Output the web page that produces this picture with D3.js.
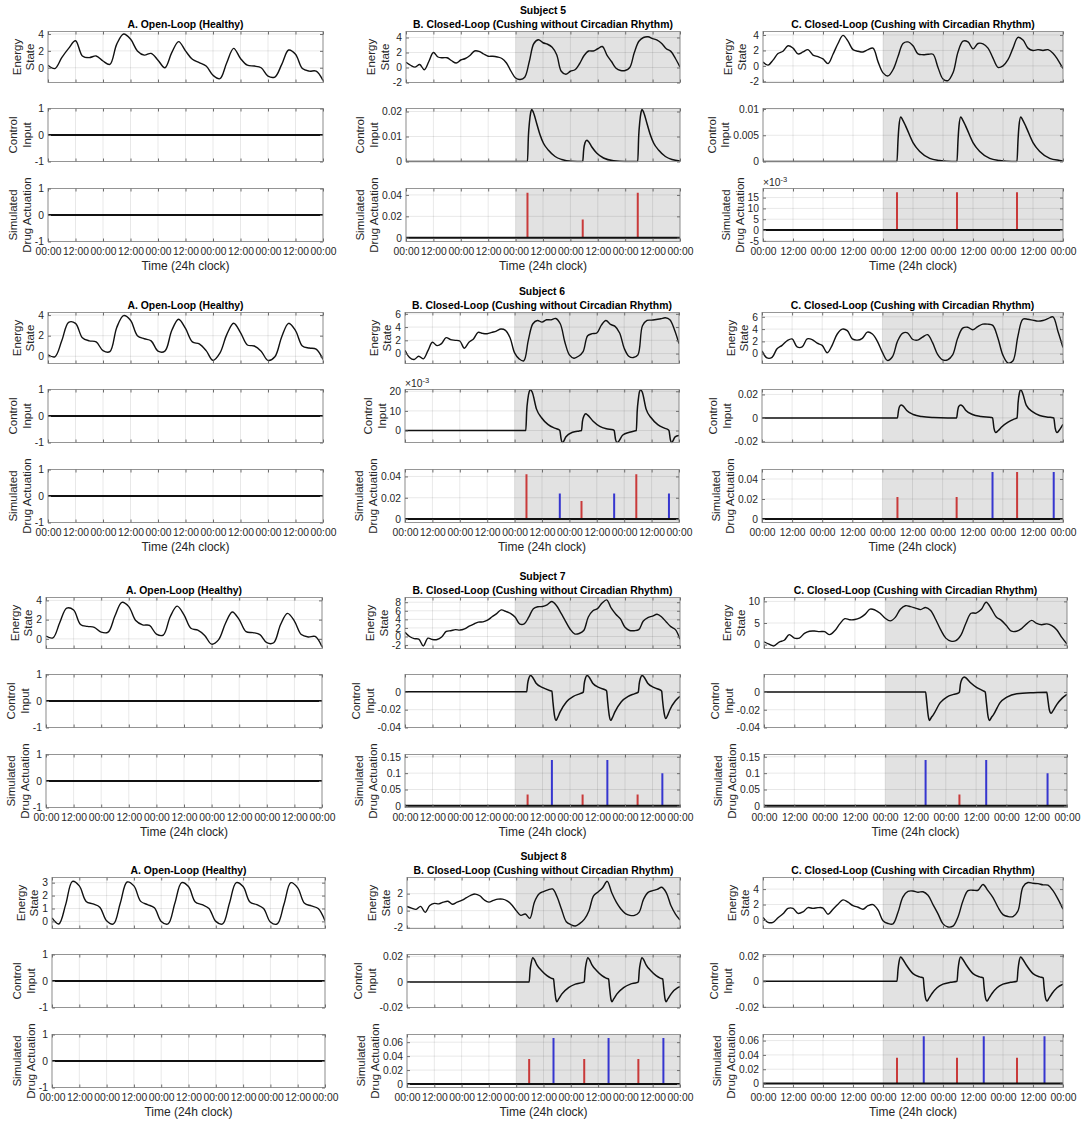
<!DOCTYPE html>
<html>
<head>
<meta charset="utf-8">
<script src="https://cdn.jsdelivr.net/npm/d3@7"></script>
<style>
  body { margin: 0; background: #fff; }
  svg { display: block; }
</style>
</head>
<body>
<svg id="fig" width="1084" height="1121"></svg>
<script>
// ---------- labels ----------
const subjectNames = ["Subject 5", "Subject 6", "Subject 7", "Subject 8"];
const columnTitles = [
  "A. Open-Loop (Healthy)",
  "B. Closed-Loop (Cushing without Circadian Rhythm)",
  "C. Closed-Loop (Cushing with Circadian Rhythm)"
];
const rowLabels = [["Energy", "State"], ["Control", "Input"], ["Simulated", "Drug Actuation"]];
const timeTickHours = [0, 12, 24, 36, 48, 60, 72, 84, 96, 108, 120];
const timeTickLabels = ["00:00", "12:00", "00:00", "12:00", "00:00", "12:00", "00:00", "12:00", "00:00", "12:00", "00:00"];
const treatmentStart = 48; // closed-loop period (shaded) starts here, hours

// ---------- energy state (evenly spaced over 0..120 h) ----------
const energyS5A = [0.3,-0.1,1.2,2.3,3.2,1.4,1.2,1.4,0.8,0.4,2.8,4.0,3.4,2.0,1.5,1.7,0.9,0.0,1.8,3.1,2.0,1.0,0.6,0.2,-0.9,-1.3,0.6,2.3,1.1,0.3,0.2,0.0,-1.0,-1.1,0.4,2.1,1.6,-0.1,-0.4,-0.4,-1.5];
const energyS6A = [0.15,-0.05,1.5,3.3,3.2,1.8,1.5,1.4,0.55,0.45,2.8,3.95,3.5,2.0,1.7,1.5,0.5,0.5,2.5,3.6,2.7,1.4,1.2,0.55,-0.4,0.3,2.1,3.2,2.3,1.1,1.0,0.5,-0.4,-0.05,1.9,3.2,2.5,1.0,0.8,0.7,-0.3];
const energyS7A = [0.3,0.1,1.7,3.2,3.0,1.5,1.3,1.2,0.7,0.7,2.4,3.8,3.35,1.9,1.45,1.4,0.5,0.4,2.3,3.4,2.5,1.1,0.9,0.35,-0.55,-0.1,1.6,2.8,2.0,0.75,0.65,0.45,-0.4,-0.4,1.5,2.65,1.85,0.45,0.2,0.25,-0.8];
const energyS8A = [0.27,-0.2,1.3,3.1,2.75,1.55,1.35,1.1,0.05,-0.2,1.4,3.05,2.75,1.55,1.3,1.05,0.0,-0.2,1.4,3.0,2.7,1.5,1.3,1.0,0.0,-0.2,1.4,3.0,2.7,1.5,1.3,1.0,-0.05,-0.2,1.35,3.0,2.6,1.4,1.2,1.0,0.05];

const energyS5B = [0.7,0.3,0.05,0.4,-0.3,0.8,2.0,1.4,1.3,1.3,0.9,0.6,1.0,1.2,1.6,2.2,2.15,1.8,1.5,1.5,1.4,1.2,0.6,-0.5,-1.4,-1.6,-1.3,0.8,3.2,3.7,3.3,3.1,2.7,1.7,-0.5,-0.9,-0.5,-0.3,0.5,1.6,2.2,2.2,2.5,2.8,1.65,0.8,-0.1,-0.4,-0.4,0.0,2.0,3.5,4.0,4.1,3.85,3.65,3.2,2.5,2.15,1.2,0.05];
const energyS5C = [0.5,0.1,0.75,1.6,1.9,2.6,2.3,1.55,1.8,2.1,1.4,1.2,0.9,0.3,1.5,2.9,3.95,3.2,2.1,1.9,1.8,2.1,2.3,0.55,-0.9,-1.3,-0.5,1.2,2.9,3.1,2.6,1.55,1.45,1.5,1.5,-0.2,-1.7,-1.9,-0.9,1.8,3.2,3.1,2.2,2.9,2.85,2.3,1.0,-0.2,0.0,0.8,2.3,3.7,3.35,2.3,2.0,2.1,2.0,2.1,1.65,0.75,-0.35];
const energyS6B = [0.5,-0.6,-0.9,-0.4,-0.8,0.4,1.7,1.2,1.5,2.4,2.1,2.0,1.9,0.8,1.7,2.2,3.2,3.05,3.0,3.2,3.4,3.7,3.5,2.4,0.1,-0.8,-1.1,2.0,4.5,5.0,4.75,5.1,5.1,5.3,4.5,1.75,-0.2,-0.7,-0.4,0.3,2.7,3.0,3.1,4.3,5.0,4.4,4.1,3.1,0.8,-0.4,-0.6,-0.2,4.2,5.0,5.05,5.15,5.25,5.4,5.1,3.6,1.5];
const energyS6C = [0.45,-0.7,-0.6,0.8,1.35,2.1,2.4,1.1,1.1,2.4,2.3,1.7,1.35,0.15,1.4,3.2,4.0,3.75,2.4,2.2,2.5,3.5,3.2,2.0,0.2,-1.1,-0.5,2.0,3.3,3.4,2.35,2.2,2.7,3.1,1.8,-0.1,-1.0,-1.0,-0.2,2.5,4.15,4.3,3.9,4.4,4.8,4.8,4.6,2.6,-0.2,-1.5,-1.2,2.8,5.6,5.6,5.45,5.3,5.4,5.7,6.0,3.6,1.0];
const energyS7B = [1.0,0.0,-0.5,-0.6,-2.2,-0.4,-0.7,-0.7,-0.1,1.2,1.35,1.6,1.5,1.8,2.4,2.9,3.35,3.4,3.8,4.6,5.35,6.2,5.85,5.4,4.55,2.95,2.95,4.5,6.5,6.95,7.0,7.4,8.15,7.3,5.5,3.6,1.75,0.6,0.7,1.4,4.55,6.0,6.5,7.8,8.55,6.6,5.2,4.1,2.15,1.4,1.35,1.6,3.6,4.4,4.75,5.2,4.55,3.4,2.3,1.6,-0.65];
const energyS7C = [0.65,0.1,-0.3,0.6,1.0,2.3,1.5,1.5,2.6,3.1,3.15,3.0,3.0,2.3,3.2,4.8,6.0,5.75,5.8,6.2,7.0,8.2,8.0,7.25,6.1,5.5,6.3,8.2,9.0,8.8,8.45,8.1,8.6,7.9,5.8,3.4,1.5,0.8,0.9,2.2,5.0,7.25,7.3,8.1,9.8,8.3,6.4,5.6,4.4,3.1,3.1,3.7,4.8,5.6,4.9,4.6,4.8,4.4,3.4,1.6,0.15];
const energyS8B = [0.5,0.3,0.15,0.5,-0.2,0.6,0.85,0.8,1.0,1.1,0.75,1.0,1.2,1.5,1.8,1.95,1.75,1.25,1.0,1.2,1.35,1.35,1.15,0.7,0.0,-0.55,-0.4,-0.9,1.0,1.95,2.25,2.45,2.55,1.6,0.1,-1.3,-1.65,-1.8,-1.5,-1.0,0.0,1.75,2.2,2.7,3.45,2.1,1.0,0.2,-0.35,-0.55,-0.55,-0.2,1.35,2.15,2.35,2.5,2.75,2.1,0.6,-0.4,-1.1];
const energyS8C = [0.35,-0.3,-0.3,0.3,0.8,1.5,1.5,0.85,1.05,1.6,1.5,1.6,1.55,0.75,1.4,2.05,2.6,2.3,1.85,1.65,1.4,1.85,2.0,1.3,-0.1,-0.45,-0.5,1.0,3.0,3.7,3.75,3.6,3.65,3.2,2.0,0.8,-0.5,-0.9,-0.8,0.4,2.5,3.8,3.85,3.85,4.6,3.8,2.9,1.65,0.7,0.45,0.45,1.2,4.3,4.85,4.75,4.7,4.55,4.5,3.8,2.7,1.4];

// ---------- control input, [hour, value] ----------
const controlOpen = [[0, 0], [120, 0]];
const controlS5B = [[0,0],[53.2,0],[53.6,0.010],[54.1,0.016],[54.6,0.0195],[55.1,0.0208],[55.8,0.0196],[57.3,0.0150],[58.7,0.0107],[60.2,0.0073],[62.4,0.0045],[65.3,0.0020],[68.2,0.0008],[72.6,0.0001],[77.4,0],[77.8,0.0045],[78.4,0.0075],[79.2,0.0085],[79.9,0.0080],[81.4,0.0058],[83.6,0.0033],[86.5,0.0014],[90.9,0.0003],[96,0],[101.5,0],[101.9,0.010],[102.4,0.016],[102.9,0.0195],[103.4,0.0208],[104.1,0.0196],[105.6,0.0150],[107,0.0107],[108.5,0.0073],[110.7,0.0045],[113.6,0.0020],[116.5,0.0008],[120,0.0002]];
const controlS5C = [[0,0],[53.6,0],[54.0,0.0040],[54.4,0.0068],[55.1,0.0085],[55.8,0.0080],[57.3,0.0065],[60.0,0.0036],[62.7,0.0019],[66.7,0.0006],[70.6,0.0002],[75.6,0],[77.6,0],[78.0,0.0040],[78.4,0.0068],[79.1,0.0085],[79.8,0.0080],[81.3,0.0065],[84.0,0.0036],[86.7,0.0019],[90.7,0.0006],[94.6,0.0002],[99.6,0],[101.6,0],[102.0,0.0040],[102.4,0.0068],[103.1,0.0085],[103.8,0.0080],[105.3,0.0065],[108.0,0.0036],[110.7,0.0019],[114.7,0.0006],[118.6,0.0002],[120,0.0001]];
const controlS6B = [[0,0],[52.9,0],[53.3,0.010],[53.8,0.016],[54.4,0.0198],[55.0,0.0208],[55.7,0.0196],[57.6,0.0109],[59.8,0.0065],[62.7,0.0030],[65.6,0.0012],[67.5,0.0004],[67.8,0],[68.4,-0.0045],[69.0,-0.0061],[70.5,-0.0032],[73.4,-0.0009],[76.3,-0.0002],[77.3,0],[77.7,0.0045],[78.4,0.0075],[79.2,0.0085],[79.9,0.0080],[82.4,0.0047],[85.3,0.0021],[88.2,0.0009],[91.1,0.0004],[91.6,0],[92.2,-0.0045],[92.9,-0.0061],[95.4,-0.0023],[98.3,-0.0009],[100.5,-0.0002],[101.3,0],[101.7,0.010],[102.2,0.016],[102.7,0.0198],[103.2,0.0208],[103.9,0.0196],[105.6,0.0109],[107.8,0.0065],[110.7,0.0030],[113.6,0.0012],[115.3,0.0004],[115.6,0],[116.2,-0.0045],[116.8,-0.0061],[118.3,-0.0032],[120,-0.0025]];
const controlS6C = [[0,0],[54.0,0],[54.4,0.006],[54.8,0.0095],[55.5,0.011],[56.2,0.0103],[57.7,0.0063],[60.3,0.0029],[63.7,0.0011],[68.3,0.0003],[74,0],[77.6,0],[78.0,0.006],[78.4,0.0095],[79.2,0.011],[79.9,0.0103],[81.3,0.0063],[83.9,0.0029],[87.3,0.0011],[91.5,0.0003],[91.9,0],[92.5,-0.009],[93.2,-0.0125],[94.1,-0.011],[95.4,-0.008],[98.1,-0.0037],[100.7,-0.0009],[101.7,0],[102.1,0.013],[102.6,0.021],[103.2,0.024],[103.9,0.021],[105.4,0.0106],[108.1,0.0049],[110.7,0.0020],[114.0,0.0006],[116.0,0.0002],[116.3,0],[116.9,-0.009],[117.6,-0.0125],[118.5,-0.0105],[120,-0.0055]];
const controlS7B = [[0,0],[53.1,0],[53.5,0.009],[54.0,0.015],[54.8,0.0183],[55.5,0.0170],[57.2,0.0097],[60.1,0.0047],[63.1,0.0016],[64.1,0.0008],[64.5,-0.010],[65.2,-0.026],[65.9,-0.032],[66.6,-0.029],[67.7,-0.0225],[70.5,-0.011],[73.5,-0.005],[76.4,-0.002],[77.8,-0.0003],[78.2,0.009],[78.7,0.015],[79.5,0.0183],[80.2,0.0170],[81.9,0.0097],[84.8,0.0047],[87.8,0.0016],[88.0,0.0008],[88.4,-0.010],[89.1,-0.026],[89.8,-0.032],[90.5,-0.029],[91.6,-0.0225],[94.4,-0.011],[97.4,-0.005],[100.3,-0.002],[101.8,-0.0003],[102.2,0.009],[102.7,0.015],[103.5,0.0183],[104.2,0.0170],[105.9,0.0097],[108.8,0.0047],[111.7,0.0016],[112.0,0.0008],[112.4,-0.010],[113.1,-0.024],[113.8,-0.030],[114.5,-0.027],[115.6,-0.020],[118,-0.010],[120,-0.005]];
const controlS7C = [[0,0],[64.0,0],[64.4,-0.010],[65.0,-0.026],[65.5,-0.032],[66.2,-0.029],[67.1,-0.0255],[69.8,-0.012],[72.4,-0.0057],[75.1,-0.0027],[77.1,-0.001],[77.4,0],[77.8,0.009],[78.4,0.0145],[79.3,0.017],[80.0,0.0158],[81.7,0.0107],[84.3,0.005],[87.0,0.0011],[87.6,0],[88.1,-0.012],[88.7,-0.027],[89.3,-0.032],[90.0,-0.029],[90.9,-0.0255],[93.5,-0.012],[96.2,-0.0057],[100.1,-0.0019],[106.7,-0.0008],[112.0,-0.0004],[112.4,-0.008],[113.0,-0.020],[113.7,-0.024],[114.5,-0.021],[116.0,-0.014],[118.0,-0.0072],[120,-0.0027]];
const controlS8B = [[0,0],[53.7,0],[54.1,0.009],[54.6,0.015],[55.3,0.019],[56.0,0.0175],[57.1,0.0134],[59.3,0.0086],[61.5,0.0049],[63.3,0.003],[64.4,0.0024],[64.8,-0.004],[65.4,-0.013],[65.9,-0.0155],[66.6,-0.0135],[68.1,-0.0093],[71.0,-0.0045],[74.0,-0.0017],[77.0,-0.0005],[77.9,0],[78.3,0.009],[78.8,0.015],[79.5,0.019],[80.2,0.0175],[81.3,0.0134],[83.5,0.0086],[85.7,0.0049],[87.5,0.003],[88.6,0.0024],[89.0,-0.004],[89.6,-0.013],[90.1,-0.0155],[90.8,-0.0135],[92.3,-0.0093],[95.2,-0.0045],[98.2,-0.0017],[101.0,-0.0005],[101.7,0],[102.1,0.009],[102.6,0.015],[103.3,0.019],[104.0,0.0175],[105.1,0.0134],[107.3,0.0086],[109.5,0.0049],[111.3,0.003],[112.4,0.0024],[112.8,-0.004],[113.4,-0.013],[113.9,-0.0155],[114.6,-0.0135],[116.1,-0.0093],[119.0,-0.0045],[120,-0.0037]];
const controlS8C = [[0,0],[53.6,0],[54.0,0.009],[54.4,0.015],[55.1,0.019],[55.8,0.0175],[57.3,0.0128],[60.0,0.006],[62.7,0.0035],[64.1,0.0027],[64.4,-0.004],[65.0,-0.013],[65.6,-0.0155],[66.3,-0.0135],[67.6,-0.0095],[69.6,-0.005],[72.0,-0.0022],[75.0,-0.0008],[77.6,0],[78.0,0.009],[78.4,0.015],[79.1,0.019],[79.8,0.0175],[81.3,0.0128],[84.0,0.006],[86.7,0.0035],[88.1,0.0027],[88.4,-0.004],[89.0,-0.013],[89.6,-0.0155],[90.3,-0.0135],[91.6,-0.0095],[93.6,-0.005],[96.0,-0.0022],[99.0,-0.0008],[101.6,0],[102.0,0.009],[102.4,0.015],[103.1,0.019],[103.8,0.0175],[105.3,0.0128],[108.0,0.006],[110.7,0.0035],[112.1,0.0027],[112.4,-0.004],[113.0,-0.013],[113.6,-0.0155],[114.3,-0.0135],[115.6,-0.0095],[117.6,-0.005],[120,-0.0022]];

// ---------- drug actuation stems, [hour, dose, drug] ----------
const drugOpen = [];
const drugS5B = [[53.2,0.042,"r"],[77.4,0.017,"r"],[101.5,0.042,"r"]];
const drugS5C = [[53.6,0.0175,"r"],[77.6,0.0175,"r"],[101.6,0.0175,"r"]];
const drugS6B = [[53.2,0.042,"r"],[67.8,0.024,"b"],[77.3,0.017,"r"],[91.6,0.024,"b"],[101.3,0.042,"r"],[115.6,0.024,"b"]];
const drugS6C = [[54.0,0.022,"r"],[77.6,0.022,"r"],[91.9,0.047,"b"],[101.7,0.047,"r"],[116.3,0.047,"b"]];
const drugS7B = [[53.5,0.035,"r"],[64.1,0.14,"b"],[77.5,0.035,"r"],[88.3,0.14,"b"],[101.5,0.035,"r"],[112.3,0.1,"b"]];
const drugS7C = [[64.0,0.14,"b"],[77.4,0.035,"r"],[88.0,0.14,"b"],[112.3,0.1,"b"]];
const drugS8B = [[53.7,0.036,"r"],[64.4,0.066,"b"],[77.9,0.036,"r"],[88.6,0.066,"b"],[101.7,0.036,"r"],[112.7,0.066,"b"]];
const drugS8C = [[53.6,0.036,"r"],[64.3,0.066,"b"],[77.6,0.036,"r"],[88.3,0.066,"b"],[101.6,0.036,"r"],[112.6,0.066,"b"]];

// ---------- y limits / ticks, order: S5 A,B,C, S6 A,B,C, ... ----------
const energyYLim = [[-1.75,4.3],[-2,4.8],[-2.15,4.45],[-0.7,4.25],[-1.5,6.2],[-1.6,6.7],[-1.0,4.3],[-2.8,9.1],[-0.9,10.9],[-0.55,3.4],[-2.1,3.9],[-1.1,5.5]];
const energyTicks = [[0,2,4],[-2,0,2,4],[-2,0,2,4],[0,2,4],[0,2,4,6],[0,2,4,6],[0,2,4],[-2,0,2,4,6,8],[0,5,10],[0,1,2,3],[-2,0,2],[0,2,4]];
const controlYLim = [[-1,1],[0,0.0212],[0,0.0101],[-1,1],[-0.0061,0.0209],[-0.021,0.0242],[-1,1],[-0.04,0.0195],[-0.04,0.0197],[-1,1],[-0.02,0.0215],[-0.0205,0.021]];
const controlTicks = [[-1,0,1],[0,0.01,0.02],[0,0.005,0.01],[-1,0,1],[0,0.01,0.02],[-0.02,0,0.02],[-1,0,1],[-0.04,-0.02,0],[-0.04,-0.02,0],[-1,0,1],[-0.02,0,0.02],[-0.02,0,0.02]];
const controlExp = [0,0,0,0,-3,0,0,0,0,0,0,0];
const drugYLim = [[-1,1],[-0.0035,0.046],[-0.0053,0.0192],[-1,1],[-0.0032,0.0465],[-0.0035,0.0495],[-1,1],[-0.005,0.157],[-0.005,0.157],[-1,1],[-0.005,0.071],[-0.0055,0.0685]];
const drugTicks = [[-1,0,1],[0,0.02,0.04],[-0.005,0,0.005,0.01,0.015],[-1,0,1],[0,0.02,0.04],[0,0.02,0.04],[-1,0,1],[0,0.05,0.1,0.15],[0,0.05,0.1,0.15],[-1,0,1],[0,0.02,0.04,0.06],[0,0.02,0.04,0.06]];
const drugExp = [0,0,-3,0,0,0,0,0,0,0,0,0];

// tables built from the arrays above
const energySeries = [
  [energyS5A, energyS5B, energyS5C], [energyS6A, energyS6B, energyS6C],
  [energyS7A, energyS7B, energyS7C], [energyS8A, energyS8B, energyS8C]
];
const controlSeries = [
  [controlOpen, controlS5B, controlS5C], [controlOpen, controlS6B, controlS6C],
  [controlOpen, controlS7B, controlS7C], [controlOpen, controlS8B, controlS8C]
];
const drugSeries = [
  [drugOpen, drugS5B, drugS5C], [drugOpen, drugS6B, drugS6C],
  [drugOpen, drugS7B, drugS7C], [drugOpen, drugS8B, drugS8C]
];

// ---------- layout ----------
const FONT = '"Liberation Sans", Arial, Helvetica, sans-serif';
const INK = "#262626";
const blockTop = [0, 281, 566, 846];
const colLeft = [[48, 406, 763], [48, 405, 762], [46, 405, 764], [52, 407, 763]];
const colRight = [[323, 680, 1063], [323, 679, 1063], [322, 680, 1067], [325, 680, 1063]];
const rowTop = [31.5, 108.5, 188.5];
const rowBottom = [82.5, 161.5, 241.5];
const stemColor = { r: "#c93a3a", b: "#3636cf" };

const svg = d3.select("#fig");
svg.append("rect").attr("width", 1084).attr("height", 1121).attr("fill", "#fff");

let clipCount = 0;

function numberFormat(exp) {
  return (d) => String(+(d / Math.pow(10, exp)).toFixed(6));
}

function drawPanel(cfg) {
  const { left, right, top, bottom } = cfg;
  const x = d3.scaleLinear().domain([0, 120]).range([left, right]);
  const y = d3.scaleLinear().domain(cfg.ylim).range([bottom, top]);
  const g = svg.append("g");

  g.append("rect")
    .attr("x", left).attr("y", top)
    .attr("width", right - left).attr("height", bottom - top)
    .attr("fill", "#fff");

  if (cfg.shaded) {
    g.append("rect")
      .attr("x", x(treatmentStart)).attr("y", top)
      .attr("width", x(120) - x(treatmentStart)).attr("height", bottom - top)
      .attr("fill", "#e2e2e2");
  }

  // grid
  g.append("g").selectAll("line").data(timeTickHours).join("line")
    .attr("x1", (d) => x(d)).attr("x2", (d) => x(d))
    .attr("y1", top).attr("y2", bottom)
    .attr("stroke", "#000").attr("stroke-opacity", 0.09);
  g.append("g").selectAll("line").data(cfg.ticks).join("line")
    .attr("x1", left).attr("x2", right)
    .attr("y1", (d) => y(d)).attr("y2", (d) => y(d))
    .attr("stroke", "#000").attr("stroke-opacity", 0.09);

  const id = "clip" + clipCount++;
  svg.append("clipPath").attr("id", id).append("rect")
    .attr("x", left).attr("y", top - 1)
    .attr("width", right - left).attr("height", bottom - top + 2);
  const plot = g.append("g").attr("clip-path", `url(#${id})`);
  cfg.draw(plot, x, y);

  g.append("rect")
    .attr("x", left).attr("y", top)
    .attr("width", right - left).attr("height", bottom - top)
    .attr("fill", "none").attr("stroke", "#8c8c8c").attr("stroke-width", 0.9);

  // axes, ticks pointing inward on all four sides
  const fmt = numberFormat(cfg.exp || 0);
  const leftAxis = g.append("g").attr("transform", `translate(${left},0)`)
    .call(d3.axisLeft(y).tickValues(cfg.ticks).tickSize(-3).tickPadding(4).tickFormat(fmt));
  g.append("g").attr("transform", `translate(${right},0)`)
    .call(d3.axisRight(y).tickValues(cfg.ticks).tickSize(-3).tickFormat(""));
  g.append("g").attr("transform", `translate(0,${top})`)
    .call(d3.axisTop(x).tickValues(timeTickHours).tickSize(-3).tickFormat(""));
  g.append("g").attr("transform", `translate(0,${bottom})`)
    .call(
      d3.axisBottom(x).tickValues(timeTickHours).tickSize(-3).tickPadding(6.5)
        .tickFormat(cfg.xLabels ? (d, i) => timeTickLabels[i] : "")
    );
  g.selectAll(".domain").remove();
  g.selectAll(".tick line").attr("stroke", "#6e6e6e");
  g.selectAll(".tick text")
    .attr("font-family", FONT).attr("font-size", 10.3).attr("fill", INK);

  if (cfg.exp) {
    const e = g.append("text")
      .attr("x", left).attr("y", top - 3)
      .attr("font-family", FONT).attr("font-size", 10.3).attr("fill", INK)
      .text("\u00d710");
    e.append("tspan").attr("dy", -4).attr("font-size", 7.5).text(String(cfg.exp));
  }

  // two-line y label, left of the tick labels
  const maxW = d3.max(leftAxis.selectAll("text").nodes(), (n) => n.getComputedTextLength());
  const lx = left - 4 - maxW - 4;
  const cy = (top + bottom) / 2;
  const lab = g.append("text")
    .attr("transform", `translate(${lx},${cy}) rotate(-90)`)
    .attr("text-anchor", "middle")
    .attr("font-family", FONT).attr("font-size", 11.5).attr("fill", INK);
  lab.append("tspan").attr("x", 0).attr("y", -13.5).text(cfg.label[0]);
  lab.append("tspan").attr("x", 0).attr("y", 0).text(cfg.label[1]);
}

function drawEnergy(values) {
  return (plot, x, y) => {
    const step = 120 / (values.length - 1);
    plot.append("path")
      .datum(values)
      .attr("d", d3.line().x((d, i) => x(i * step)).y((d) => y(d)).curve(d3.curveCatmullRom.alpha(0.5)))
      .attr("fill", "none").attr("stroke", "#111").attr("stroke-width", 1.4);
  };
}

function drawControl(points, width) {
  return (plot, x, y) => {
    plot.append("path")
      .datum(points)
      .attr("d", d3.line().x((d) => x(d[0])).y((d) => y(d[1])).curve(d3.curveMonotoneX))
      .attr("fill", "none").attr("stroke", "#111").attr("stroke-width", width);
  };
}

function drawDrug(stems) {
  return (plot, x, y) => {
    plot.append("g").selectAll("line").data(stems).join("line")
      .attr("x1", (d) => x(d[0])).attr("x2", (d) => x(d[0]))
      .attr("y1", y(0)).attr("y2", (d) => y(d[1]))
      .attr("stroke", (d) => stemColor[d[2]]).attr("stroke-width", 2);
    plot.append("path")
      .datum([[0, 0], [120, 0]])
      .attr("d", d3.line().x((d) => x(d[0])).y((d) => y(d[1])))
      .attr("fill", "none").attr("stroke", "#111").attr("stroke-width", 2);
  };
}

subjectNames.forEach((name, s) => {
  const oy = blockTop[s];
  for (let c = 0; c < 3; c++) {
    const k = s * 3 + c;
    const left = colLeft[s][c];
    const right = colRight[s][c];
    const base = { left, right, shaded: c > 0 };

    drawPanel({
      ...base, top: oy + rowTop[0], bottom: oy + rowBottom[0],
      ylim: energyYLim[k], ticks: energyTicks[k], label: rowLabels[0],
      draw: drawEnergy(energySeries[s][c])
    });
    drawPanel({
      ...base, top: oy + rowTop[1], bottom: oy + rowBottom[1],
      ylim: controlYLim[k], ticks: controlTicks[k], exp: controlExp[k], label: rowLabels[1],
      draw: drawControl(controlSeries[s][c], c === 0 ? 2 : 1.5)
    });
    drawPanel({
      ...base, top: oy + rowTop[2], bottom: oy + rowBottom[2],
      ylim: drugYLim[k], ticks: drugTicks[k], exp: drugExp[k], label: rowLabels[2],
      xLabels: true,
      draw: drugSeries[s][c].length ? drawDrug(drugSeries[s][c]) : drawControl(controlOpen, 2)
    });

    svg.append("text")
      .attr("x", (left + right) / 2).attr("y", oy + 27.5)
      .attr("text-anchor", "middle")
      .attr("font-family", FONT).attr("font-size", 10.4).attr("font-weight", "bold").attr("fill", "#000")
      .text(columnTitles[c]);

    svg.append("text")
      .attr("x", (left + right) / 2).attr("y", oy + 270)
      .attr("text-anchor", "middle")
      .attr("font-family", FONT).attr("font-size", 12).attr("fill", INK)
      .text("Time (24h clock)");
  }

  svg.append("text")
    .attr("x", (colLeft[s][1] + colRight[s][1]) / 2).attr("y", oy + 13.5)
    .attr("text-anchor", "middle")
    .attr("font-family", FONT).attr("font-size", 10.4).attr("font-weight", "bold").attr("fill", "#000")
    .text(name);
});
</script>
</body>
